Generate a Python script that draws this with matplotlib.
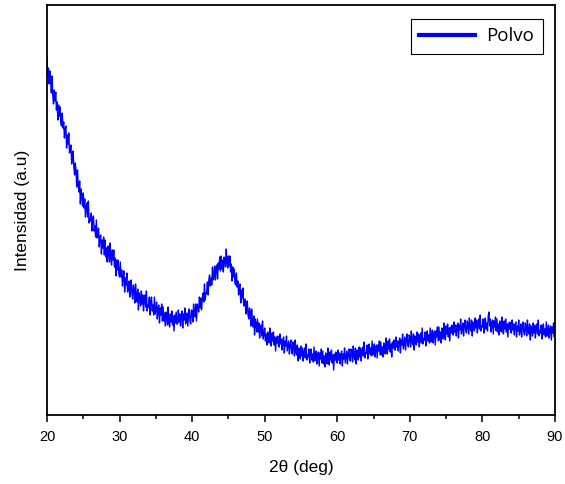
import numpy as np
import matplotlib
matplotlib.use("Agg")
import matplotlib.pyplot as plt

# 2theta from 20 to 90 deg in 0.1 deg steps, intensity (a.u.)
# one row = 2 degrees
dos_theta = np.linspace(20.0, 90.0, 701)
intensidad = [
    357, 339, 347, 331, 344, 335, 322, 339, 319, 311, 325, 314, 323, 305, 313, 295, 310, 299, 308, 292,
    289, 302, 287, 293, 277, 286, 289, 267, 280, 271, 282, 262, 265, 270, 251, 261, 264, 248, 240, 252,
    244, 228, 245, 230, 223, 234, 211, 226, 219, 209, 222, 207, 216, 198, 208, 212, 198, 214, 192, 197,
    194, 202, 184, 196, 199, 184, 189, 178, 195, 177, 180, 187, 168, 178, 180, 161, 175, 167, 178, 160,
    175, 158, 167, 153, 169, 163, 153, 172, 156, 150, 165, 155, 165, 148, 157, 139, 155, 145, 155, 141,
    138, 153, 138, 145, 129, 139, 144, 123, 137, 130, 142, 123, 128, 134, 118, 130, 135, 121, 116, 130,
    126, 112, 131, 118, 113, 126, 105, 122, 117, 109, 124, 111, 120, 104, 115, 120, 108, 124, 104, 110,
    108, 118, 100, 114, 118, 104, 110, 100, 118, 101, 105, 113, 96, 107, 110, 92, 107, 100, 111, 94,
    108, 94, 102, 89, 103, 99, 90, 108, 92, 88, 101, 93, 104, 90, 99, 84, 100, 92, 103, 91,
    91, 105, 93, 101, 89, 99, 104, 87, 101, 95, 107, 91, 96, 102, 89, 101, 106, 94, 91, 105,
    104, 93, 111, 100, 98, 111, 94, 111, 109, 103, 118, 107, 117, 105, 117, 122, 113, 131, 115, 122,
    122, 133, 120, 135, 140, 129, 137, 130, 148, 135, 140, 149, 135, 147, 150, 136, 152, 146, 158, 144,
    159, 146, 155, 143, 158, 155, 148, 166, 152, 147, 159, 149, 159, 143, 151, 134, 148, 138, 146, 132,
    130, 142, 128, 134, 120, 128, 131, 112, 125, 117, 127, 109, 112, 116, 101, 111, 114, 100, 96, 107,
    103, 89, 106, 92, 88, 99, 80, 96, 91, 83, 96, 83, 92, 77, 88, 90, 79, 94, 76, 81,
    87, 74, 81, 70, 83, 79, 72, 87, 74, 69, 82, 74, 83, 70, 78, 64, 78, 72, 79, 69,
    68, 81, 71, 76, 65, 74, 78, 62, 74, 69, 79, 64, 69, 74, 61, 70, 75, 65, 61, 73,
    69, 59, 75, 63, 60, 70, 54, 67, 64, 56, 69, 59, 67, 54, 63, 67, 57, 71, 55, 60,
    58, 66, 52, 63, 66, 55, 61, 53, 68, 54, 57, 64, 51, 60, 63, 49, 62, 56, 66, 52,
    64, 51, 59, 48, 62, 58, 51, 67, 54, 50, 63, 55, 65, 52, 60, 45, 61, 55, 63, 53,
    52, 65, 55, 62, 51, 60, 64, 49, 61, 56, 67, 52, 58, 64, 51, 61, 66, 56, 54, 66,
    63, 53, 69, 58, 55, 67, 51, 65, 62, 55, 68, 58, 67, 54, 64, 68, 59, 73, 57, 62,
    62, 70, 56, 67, 71, 61, 67, 59, 74, 60, 64, 71, 58, 67, 70, 57, 70, 64, 74, 60,
    73, 60, 68, 58, 72, 68, 61, 77, 64, 61, 74, 66, 76, 63, 71, 58, 73, 67, 75, 65,
    65, 78, 68, 74, 64, 73, 77, 62, 75, 70, 81, 66, 72, 78, 65, 75, 81, 71, 68, 80,
    78, 68, 84, 73, 70, 81, 65, 79, 77, 70, 83, 73, 81, 68, 78, 82, 72, 87, 71, 76,
    75, 83, 69, 80, 84, 74, 80, 72, 87, 73, 78, 85, 72, 81, 84, 70, 84, 78, 88, 74,
    88, 75, 83, 72, 87, 83, 76, 92, 79, 75, 89, 81, 91, 78, 87, 74, 88, 82, 90, 81,
    80, 93, 83, 90, 79, 88, 92, 77, 90, 85, 96, 81, 86, 92, 79, 90, 95, 85, 82, 94,
    91, 81, 97, 87, 84, 95, 79, 93, 91, 84, 97, 87, 95, 82, 92, 96, 86, 100, 84, 89,
    88, 96, 82, 93, 97, 86, 92, 84, 99, 103, 89, 96, 83, 92, 95, 81, 94, 88, 98, 84,
    96, 83, 91, 80, 94, 90, 83, 98, 85, 81, 94, 86, 96, 83, 91, 78, 92, 86, 93, 83,
    82, 95, 85, 91, 80, 89, 93, 78, 89, 84, 95, 80, 85, 91, 78, 88, 93, 83, 80, 92,
    89, 79, 95, 84, 81, 91, 75, 89, 86, 79, 92, 82, 90, 77, 87, 91, 81, 95, 79, 84,
    82, 90, 76, 87, 91, 80, 86, 78, 93, 79, 83, 90, 77, 86, 89, 75, 88, 82, 92, 78,
    85,
]
x_ticks = [20, 30, 40, 50, 60, 70, 80, 90]

plt.rcParams["font.family"] = ["Liberation Sans", "DejaVu Sans"]
fig = plt.figure(figsize=(5.65, 4.84), dpi=100)
ax = fig.add_axes([47 / 565, 69 / 484, 508 / 565, 410 / 484])

ax.plot(dos_theta, intensidad, color="#0000ff", linewidth=1.0, label="Polvo")

ax.set_xlim(20, 90)
ax.set_ylim(0, 410)
ax.set_xticks(x_ticks)
ax.set_xticks(np.arange(25, 90, 10), minor=True)
ax.set_yticks([])
ax.tick_params(axis="x", which="major", direction="out", length=5, width=1.1,
               labelsize=10.5, pad=6)
ax.tick_params(axis="x", which="minor", direction="out", length=3, width=1.1)
for s in ax.spines.values():
    s.set_linewidth(1.3)

ax.set_xlabel("2θ (deg)", fontsize=12.5, labelpad=11)
ax.set_ylabel("Intensidad (a.u)", fontsize=12.5, labelpad=12)

leg = ax.legend(loc="upper right", bbox_to_anchor=(0.976, 0.966), borderaxespad=0,
                fancybox=False, edgecolor="black", framealpha=1, handlelength=3.0,
                borderpad=0.45, handletextpad=0.6,
                prop={"family": "Open Sans", "size": 13.5})
leg.get_frame().set_linewidth(0.8)
leg.get_lines()[0].set_linewidth(3)

fig.savefig("out.png", dpi=100)
